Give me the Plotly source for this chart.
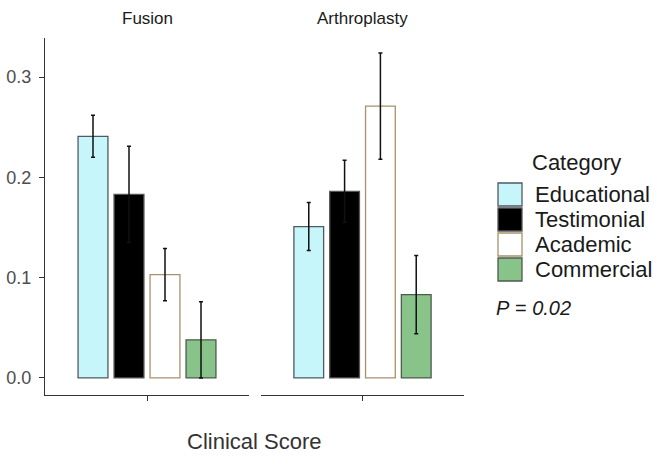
import plotly.graph_objects as go

panels = ["Fusion", "Arthroplasty"]
categories = ["Educational", "Testimonial", "Academic", "Commercial"]
fusion_means = [0.241, 0.183, 0.103, 0.038]
fusion_err = [0.021, 0.048, 0.026, 0.038]
arthro_means = [0.151, 0.186, 0.271, 0.083]
arthro_err = [0.024, 0.031, 0.053, 0.039]
y_ticks = [0.0, 0.1, 0.2, 0.3]
fills = ["#C6F6F9", "#000000", "#FFFFFF", "#88C48A"]
borders = ["#4f5a63", "#555555", "#a8916d", "#4d5a4f"]

FONT = "Liberation Sans, Arial, sans-serif"
W, H = 658, 459
L, R, T, B = 45, 464, 38, 395

def px(x):
    return (x - L) / (R - L)

def py(y):
    return (B - y) / (B - T)

fig = go.Figure()
for pi, (means, errs) in enumerate([(fusion_means, fusion_err), (arthro_means, arthro_err)]):
    xa = "x" if pi == 0 else "x2"
    for ci, cat in enumerate(categories):
        fig.add_trace(go.Bar(
            x=[0], y=[means[ci]], name=cat, showlegend=False,
            marker=dict(color=fills[ci], line=dict(color=borders[ci], width=1.3)),
            error_y=dict(type="data", array=[errs[ci]], color="#111111", thickness=1.5, width=2),
            xaxis=xa, yaxis="y", offsetgroup=str(ci),
        ))

xcommon = dict(range=[-0.6, 0.6], tickvals=[0], ticktext=[""], ticks="outside", ticklen=5,
               tickcolor="#333333", showline=True, linecolor="#333333", linewidth=1.3,
               showgrid=False, zeroline=False, fixedrange=True)
fig.update_layout(
    width=W, height=H,
    margin=dict(l=L, r=W - R, t=T, b=H - B, autoexpand=False),
    paper_bgcolor="white", plot_bgcolor="white",
    barmode="group", bargap=0.153, bargroupgap=0.17,
    font=dict(family=FONT, color="#333333"),
    xaxis=dict(domain=[0, px(249)], anchor="y", **xcommon),
    xaxis2=dict(domain=[px(261), 1], anchor="y", **xcommon),
    yaxis=dict(range=[-0.017, 0.339], tickvals=y_ticks, tickformat=".1f",
               ticks="outside", ticklen=5, tickcolor="#333333",
               showline=True, linecolor="#333333", linewidth=1.3,
               showgrid=False, zeroline=False, automargin=False, ticklabelstandoff=4,
               tickfont=dict(size=18, color="#4d4d4d", family=FONT)),
    showlegend=False,
    hovermode=False,
)

def note(text, x, y, size, color="#1a1a1a", xanchor="center"):
    fig.add_annotation(text=text, x=px(x), y=py(y), xref="paper", yref="paper",
                       xanchor=xanchor, yanchor="middle", showarrow=False,
                       font=dict(size=size, color=color, family=FONT))

# facet strip titles
for name, cx in zip(panels, [147, 362]):
    note(name, cx, 19, 17)

# x axis title
note("Clinical Score", 254, 441, 22, color="#333333")

# custom legend
note("Category", 530, 162, 22, xanchor="left")
key_tops = [183, 208, 233, 258]
for ci, cat in enumerate(categories):
    t0 = key_tops[ci]
    fig.add_shape(type="rect", xref="paper", yref="paper",
                  x0=px(498), x1=px(522), y0=py(t0 + 23), y1=py(t0),
                  fillcolor=fills[ci], line=dict(color=borders[ci], width=1.3))
    note(cat, 533, t0 + 11.5, 22, xanchor="left")

note("<i>P</i> = <i>0.02</i>", 494, 308, 20, xanchor="left")

fig.write_html("out.html", config={"displayModeBar": False},
               post_script="document.body.style.margin='0';")
